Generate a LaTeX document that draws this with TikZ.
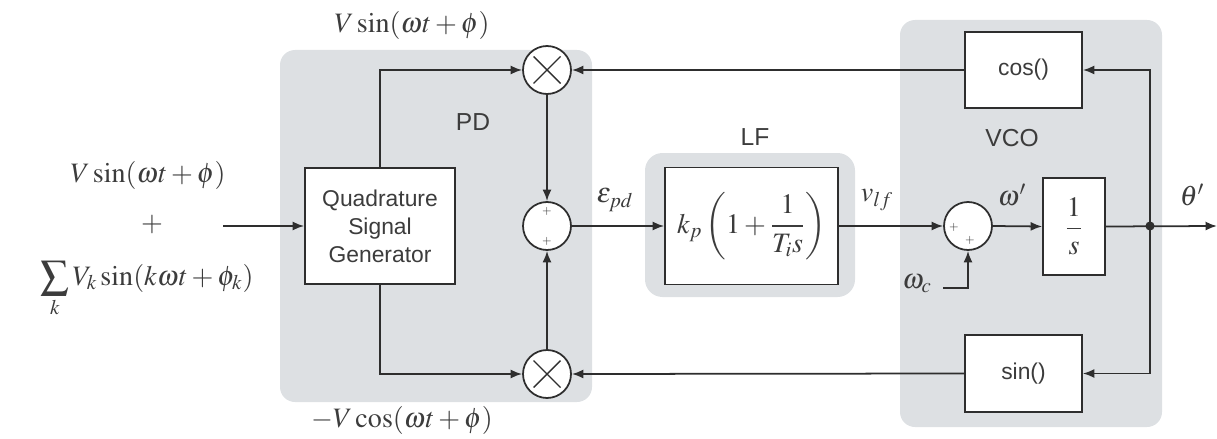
\documentclass[tikz,border=0pt]{standalone}
\usepackage{amsmath}
\usepackage{mathptmx}
\usepackage{fontspec}
\newfontfamily\blockfont{Liberation Sans}
\usetikzlibrary{arrows.meta,calc}
\definecolor{boxGray}{HTML}{DDE0E3}
\definecolor{lineDark}{HTML}{2E2E2E}
\definecolor{textGray}{HTML}{3C3C3C}

\begin{document}
\begin{tikzpicture}[x=0.02cm,y=-0.02cm,>={Latex[length=2.3mm,width=1.8mm]},
  block/.style={draw=lineDark,line width=1pt,fill=white,inner sep=0pt,align=center,
    text=textGray,font=\blockfont\fontsize{13}{16}\selectfont},
  junc/.style={circle,draw=lineDark,line width=1pt,fill=white,minimum size=0.96cm,inner sep=0pt},
  sig/.style={draw=lineDark,line width=1pt,->},
  lbl/.style={text=textGray,inner sep=0.5pt,font=\fontsize{16}{19}\selectfont},
  grp/.style={text=textGray,font=\blockfont\fontsize{14}{16}\selectfont},
  pm/.style={text=lineDark,inner sep=0pt,font=\fontsize{7}{8}\selectfont}]
\useasboundingbox (0,0) rectangle (1217,439);
% gray groups
\fill[boxGray,rounded corners=0.3cm] (280,50) rectangle (592,402);
\fill[boxGray,rounded corners=0.35cm] (645,153) rectangle (855,297);
\fill[boxGray,rounded corners=0.3cm] (900,20) rectangle (1162,427);
\node[grp] (pdl) at (473,122) {PD};
\node[grp] (lfl) at (755,137) {LF};
\node[grp] (vcol) at (1012,138) {VCO};

% blocks
\node[block,minimum width=3cm,minimum height=2.32cm] (qsg) at (380,226) {Quadrature\\Signal\\Generator};
\node[junc] (mul1) at (547,70) {};
\node[junc] (sum1) at (547,226) {};
\node[junc] (mul2) at (547,374) {};
\node[block,minimum width=3.46cm,minimum height=2.34cm] (lf) at (751.5,226)
  {\fontsize{16}{19}\selectfont$k_p\left(1+\dfrac{1}{T_i s}\right)$};
\node[junc] (sum2) at (968,226) {};
\node[block,minimum width=1.24cm,minimum height=1.94cm] (integ) at (1074,226.5)
  {\fontsize{16}{19}\selectfont$\dfrac{1}{s}$};
\node[block,minimum width=2.34cm,minimum height=1.52cm] (cosb) at (1023.5,70) {cos()};
\node[block,minimum width=2.34cm,minimum height=1.54cm] (sinb) at (1023.5,373.5) {sin()};

% multiplier crosses and plus signs
\foreach \m in {mul1,mul2} {
  \draw[lineDark,line width=0.8pt] ($(\m)+(-0.27cm,-0.27cm)$) -- ($(\m)+(0.27cm,0.27cm)$);
  \draw[lineDark,line width=0.8pt] ($(\m)+(-0.27cm,0.27cm)$) -- ($(\m)+(0.27cm,-0.27cm)$);
}
\node[pm] at (547,211) {$+$};
\node[pm] at (547,241) {$+$};
\node[pm] at (954,227) {$+$};
\node[pm] at (970,240) {$+$};

% coordinates
\coordinate (inp) at (223,226);
\coordinate (jn) at (1150,226);
\coordinate (outp) at (1217,226);
\coordinate (wc) at (943,288);

% signal paths
\draw[sig] (inp) -- (qsg.west);
\draw[sig] (qsg.north) |- (mul1.west);
\draw[sig] (qsg.south) |- (mul2.west);
\draw[sig] (mul1.south) -- (sum1.north);
\draw[sig] (mul2.north) -- (sum1.south);
\draw[sig] (sum1.east) -- (lf.west);
\draw[sig] (lf.east) -- (sum2.west);
\draw[sig] (sum2.east) -- (integ.west);
\draw[sig] (wc) -| (sum2.south);
\draw[sig] (integ.east) -- (outp);
\draw[sig] (jn) |- (cosb.east);
\draw[sig] (jn) |- (sinb.east);
\draw[sig] (cosb.west) -- (mul1.east);
\draw[sig] (sinb.west) -- (mul2.east);
\fill[lineDark] (jn) circle (2.6pt);

% labels
\node[lbl] (in1) at (148,175) {$V\sin(\omega t+\phi)$};
\node[lbl] (in2) at (152,224) {$+$};
\node[lbl] (in3) at (147,289) {$\displaystyle\sum_{k} V_k\sin(k\omega t+\phi_k)$};
\node[lbl] (vs) at (412,25) {$V\sin(\omega t+\phi)$};
\node[lbl] (vc) at (402,420) {$-V\cos(\omega t+\phi)$};
\node[lbl] (epd) at (615,200) {$\varepsilon_{pd}$};
\node[lbl] (vlf) at (877,200) {$v_{lf}$};
\node[lbl] (wp) at (1012,195) {$\omega'$};
\node[lbl] (thp) at (1192,195) {$\theta'$};
\node[lbl] (wcl) at (917,284) {$\omega_c$};
\end{tikzpicture}
\end{document}
